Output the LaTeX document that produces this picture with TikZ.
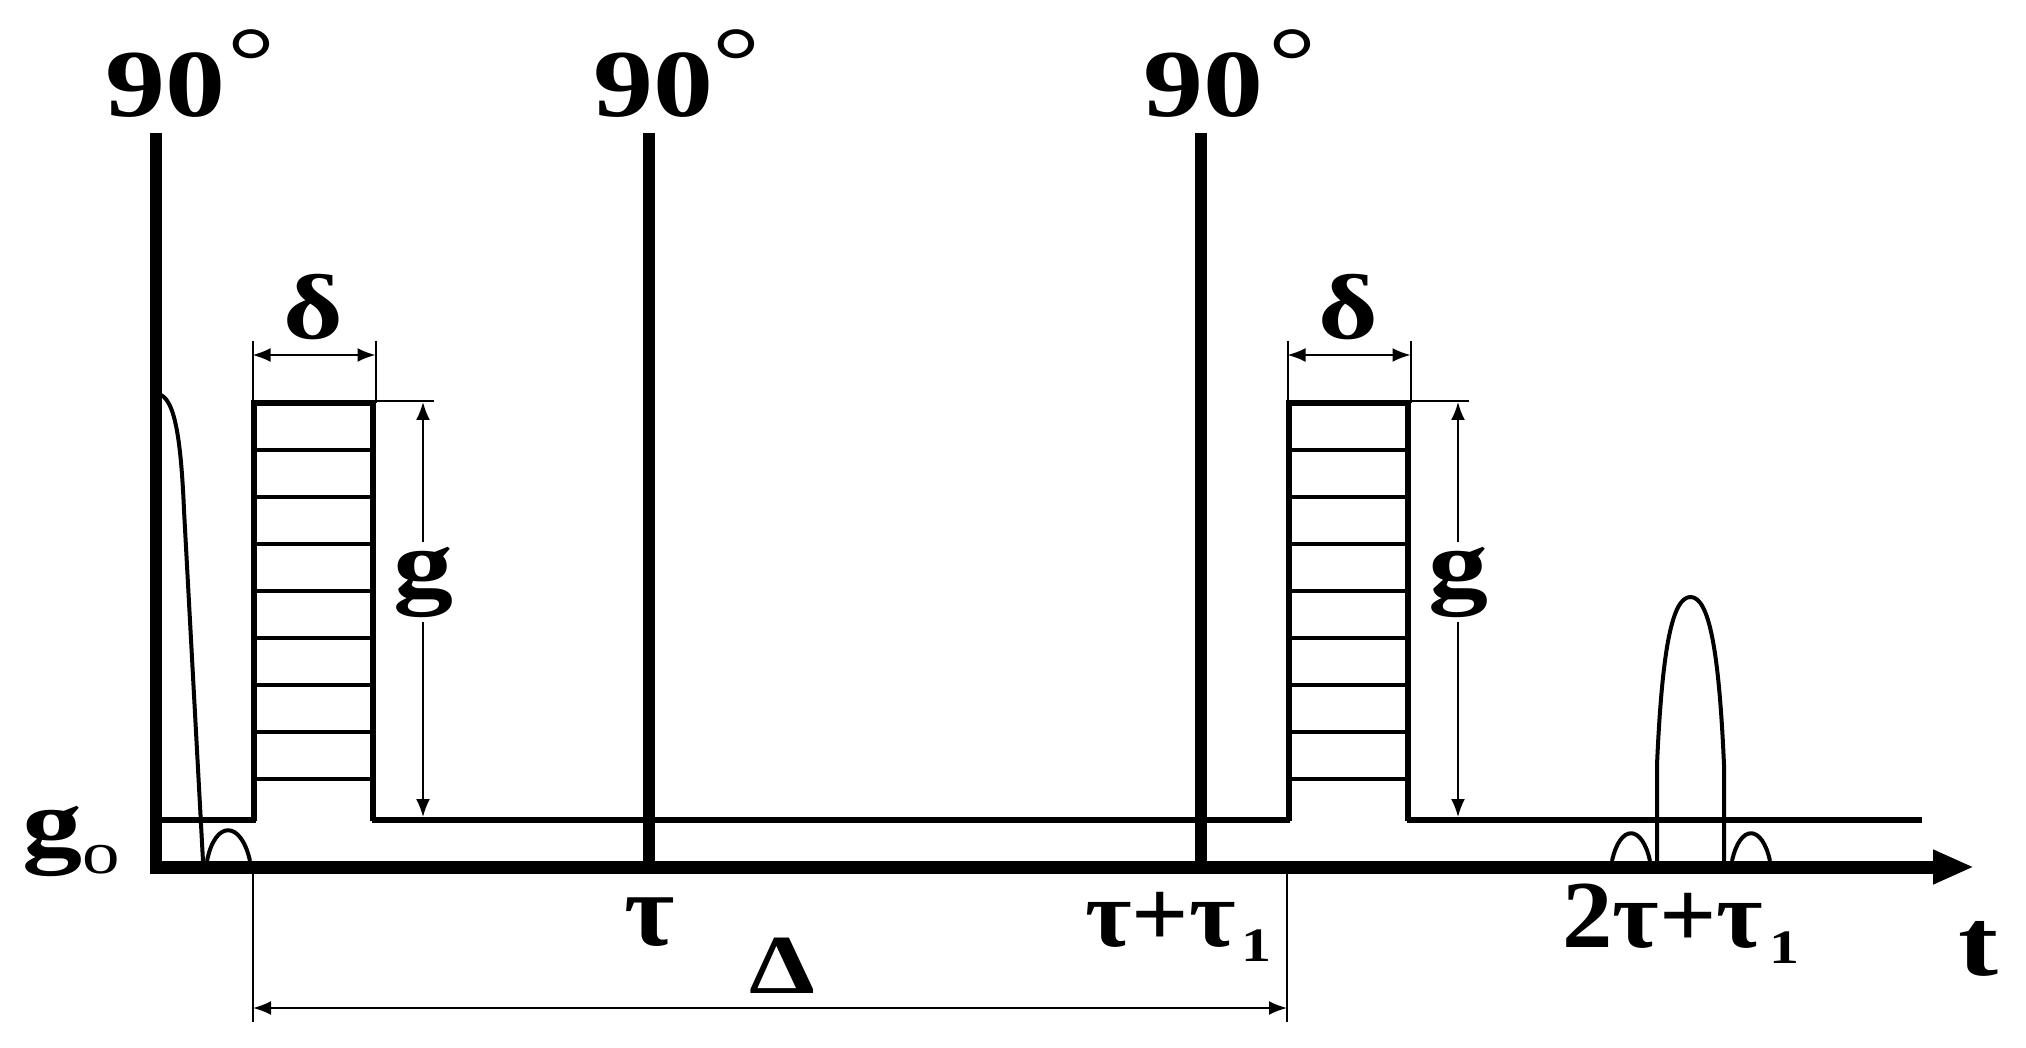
\documentclass[tikz,border=0pt]{standalone}
\usepackage{fontspec}
\usepackage{graphicx}
\setmainfont{Liberation Serif}
\newfontfamily\labfont[FakeStretch=1.25]{Liberation Serif}
\newfontfamily\grkfont[FakeStretch=1.05]{Liberation Serif}
\usetikzlibrary{arrows.meta}
\begin{document}
\begin{tikzpicture}[x=0.5pt,y=-0.5pt,
  pulse/.style={line width=6pt},
  axisline/.style={line width=6.5pt},
  level/.style={line width=3.3pt},
  boxline/.style={line width=2.6pt, line join=miter},
  hatchline/.style={line width=2.4pt},
  signal/.style={line width=2pt, line join=round},
  dimline/.style={line width=1pt},
  dimarrow/.style={line width=1pt, {Latex[length=9pt,width=7pt]}-{Latex[length=9pt,width=7pt]}},
  onearrow/.style={line width=1pt, -{Latex[length=9pt,width=7pt]}},
  lab/.style={inner sep=0pt, font=\labfont\bfseries\fontsize{48}{48}\selectfont},
  deg/.style={inner sep=0pt, font=\labfont\fontsize{48}{48}\selectfont},
  dlab/.style={inner sep=0pt, font=\labfont\bfseries\fontsize{46}{46}\selectfont},
  tlab/.style={inner sep=0pt, font=\grkfont\bfseries\fontsize{52}{52}\selectfont},
  tlabs/.style={inner sep=0pt, font=\grkfont\bfseries\fontsize{48}{48}\selectfont},
  Dlab/.style={inner sep=0pt, font=\labfont\bfseries\fontsize{42}{42}\selectfont},
  glab/.style={inner sep=2pt, font=\labfont\bfseries\fontsize{48}{48}\selectfont}
]
\newcommand{\subone}[1]{\hspace{3pt}\raisebox{#1}{\labfont\bfseries\fontsize{24}{24}\selectfont 1}}
\useasboundingbox (0,0) rectangle (2026,1048);

% pulses
\coordinate (p1top) at (156,133); \coordinate (p1bot) at (156,874);
\coordinate (p2top) at (649,133); \coordinate (p2bot) at (649,867);
\coordinate (p3top) at (1201,133); \coordinate (p3bot) at (1201,867);
\draw[pulse] (p1top) -- (p1bot);
\draw[pulse] (p2top) -- (p2bot);
\draw[pulse] (p3top) -- (p3bot);

% time axis
\coordinate (ax0) at (150,867); \coordinate (ax1) at (1974,867);
\draw[axisline, -{Triangle[length=20.5pt,width=16pt]}] (ax0) -- (ax1);

% gradient boxes
\draw[boxline] (254,821) -- (254,403) -- (373,403) -- (373,821);
\draw[boxline] (1289,821) -- (1289,403) -- (1408,403) -- (1408,821);
\foreach \yy in {450,497,544,591,638,685,732,779}{
  \draw[hatchline] (254,\yy) -- (373,\yy);
  \draw[hatchline] (1289,\yy) -- (1408,\yy);
}
% g0 level
\draw[level] (156,820) -- (256,820);
\draw[level] (372,820) -- (1290,820);
\draw[level] (1407,820) -- (1922,820);

% FID, echoes
\draw[signal] (161,395) .. controls (175,402) and (181,440) .. (184,510) -- (203,861);
\draw[signal] (207,861) .. controls (215,820) and (241,820) .. (250,861);
\draw[signal] (1612,861) .. controls (1620,824) and (1642,824) .. (1650,861);
\draw[signal] (1732,861) .. controls (1740,824) and (1762,824) .. (1770,861);
\draw[signal] (1657,861) -- (1657,765) .. controls (1662,650) and (1672,597) .. (1690.5,597)
  .. controls (1709,597) and (1719,650) .. (1724,765) -- (1724,861);

% delta dimensions
\coordinate (d1l) at (252.5,341); \coordinate (d1lb) at (252.5,403);
\coordinate (d1r) at (375.5,341); \coordinate (d1rb) at (375.5,403);
\draw[dimline] (d1l) -- (d1lb); \draw[dimline] (d1r) -- (d1rb);
\draw[dimarrow] (252.5,355) -- (375.5,355);
\coordinate (d2l) at (1287.5,341); \coordinate (d2lb) at (1287.5,403);
\coordinate (d2r) at (1410.5,341); \coordinate (d2rb) at (1410.5,403);
\draw[dimline] (d2l) -- (d2lb); \draw[dimline] (d2r) -- (d2rb);
\draw[dimarrow] (1287.5,355) -- (1410.5,355);
\node[dlab, anchor=base] (delta1) at (313.5,339) {δ};
\node[dlab, anchor=base] (delta2) at (1348.5,339) {δ};

% g dimensions
\coordinate (ge1a) at (375,401.5); \coordinate (ge1b) at (434,401.5);
\draw[dimline] (ge1a) -- (ge1b);
\node[glab] (g1) at (423,582) {g};
\coordinate (g1top) at (423,402); \coordinate (g1bot) at (423,817);
\draw[onearrow] (g1.north) -- (g1top);
\draw[onearrow] (g1.south) -- (g1bot);
\coordinate (ge2a) at (1410,401.5); \coordinate (ge2b) at (1469,401.5);
\draw[dimline] (ge2a) -- (ge2b);
\node[glab] (g2) at (1458,582) {g};
\coordinate (g2top) at (1458,402); \coordinate (g2bot) at (1458,817);
\draw[onearrow] (g2.north) -- (g2top);
\draw[onearrow] (g2.south) -- (g2bot);

% Delta dimension
\coordinate (D1t) at (253,874); \coordinate (D1b) at (253,1022);
\coordinate (D2t) at (1287,874); \coordinate (D2b) at (1287,1022);
\draw[dimline] (D1t) -- (D1b); \draw[dimline] (D2t) -- (D2b);
\draw[dimarrow] (253,1008) -- (1287,1008);
\node[Dlab, anchor=base] (Dl) at (782.5,993) {Δ};

% pulse labels
\node[lab, anchor=base] (n90a) at (165,117) {90};
\node[lab, anchor=base] (n90b) at (653.5,117) {90};
\node[lab, anchor=base] (n90c) at (1203,117) {90};
\node[deg, anchor=base] (dga) at (251,94) {°};
\node[deg, anchor=base] (dgb) at (736,94) {°};
\node[deg, anchor=base] (dgc) at (1292,94) {°};

% axis labels
\node[lab, anchor=base west] (g0) at (22,855) {g\raisebox{-9pt}{\fontsize{30}{30}\selectfont\mdseries o}};
\node[tlab, anchor=base] (tau) at (649.5,945) {τ};
\node[tlabs, anchor=base west] (tt1) at (1085,946) {τ+τ\subone{-7.5pt}};
\node[tlabs, anchor=base west] (tt2) at (1562,947) {2τ+τ\subone{-8pt}};
\node[lab, anchor=base] (tl) at (1978,975) {t};
\end{tikzpicture}
\end{document}
